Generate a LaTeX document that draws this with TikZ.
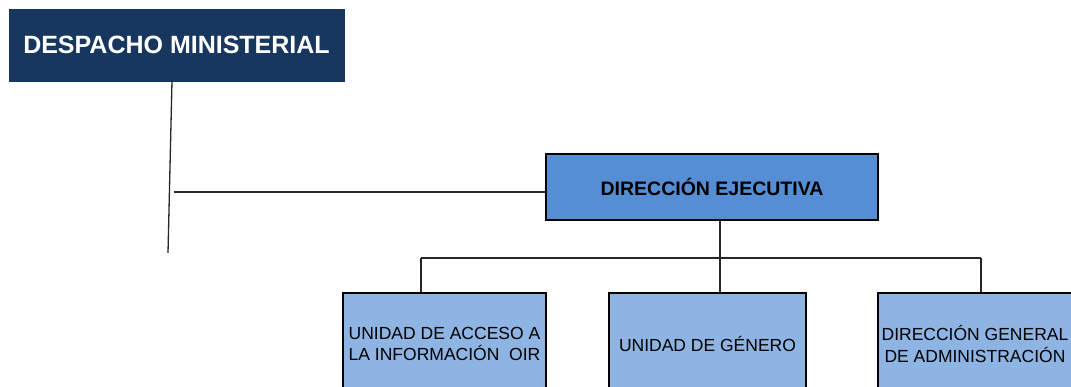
\documentclass[tikz,border=0pt]{standalone}
\usepackage{fontspec}
\setmainfont{Liberation Sans}
\definecolor{navy}{HTML}{17375E}
\definecolor{midblue}{HTML}{558ED5}
\definecolor{lightblue}{HTML}{8EB4E3}
\begin{document}
\begin{tikzpicture}[x=1pt,y=-1pt,
  topbox/.style={rectangle,fill=navy,draw=navy,text=white,inner sep=0pt,
    minimum width=335pt,minimum height=72pt,font=\fontsize{25}{28}\selectfont\bfseries},
  execbox/.style={rectangle,fill=midblue,draw=black,line width=1.5pt,inner sep=0pt,
    minimum width=332pt,minimum height=66pt,font=\fontsize{19.5}{22}\selectfont\bfseries},
  unitbox/.style={rectangle,fill=lightblue,draw=black,line width=1.5pt,inner sep=0pt,
    align=center,font=\fontsize{17.5}{21.5}\selectfont,minimum height=102pt},
  link/.style={line width=1.3pt,draw=black!85}]
\useasboundingbox (0,0) rectangle (1071,387);
\fill[white] (0,0) rectangle (1071,387);
\node[topbox] (dm) at (176.5,45) {DESPACHO MINISTERIAL};
\node[execbox] (de) at (712,187) {DIRECCIÓN EJECUTIVA};
\node[unitbox,minimum width=203pt] (u1) at (444.5,344) {UNIDAD DE ACCESO A\\LA INFORMACIÓN\ \ OIR};
\node[unitbox,minimum width=197pt] (u2) at (707.5,344) {UNIDAD DE GÉNERO};
\node[unitbox,minimum width=194pt] (u3) at (975,344) {DIRECCIÓN GENERAL\\DE ADMINISTRACIÓN};
\coordinate (dmtop) at (172,81);
\coordinate (dmend) at (168,253);
\coordinate (junc) at (174,192);
\coordinate (bus1) at (421,258);
\coordinate (bus3) at (981,258);
\draw[link] (dmtop) -- (dmend);
\draw[link] (junc) -- (junc -| de.west);
\draw[link] (de.south -| 720,0) -- (u2.north -| 720,0);
\draw[link] (bus1) -- (bus3);
\draw[link] (bus1) -- (bus1 |- u1.north);
\draw[link] (bus3) -- (bus3 |- u3.north);
\end{tikzpicture}
\end{document}
